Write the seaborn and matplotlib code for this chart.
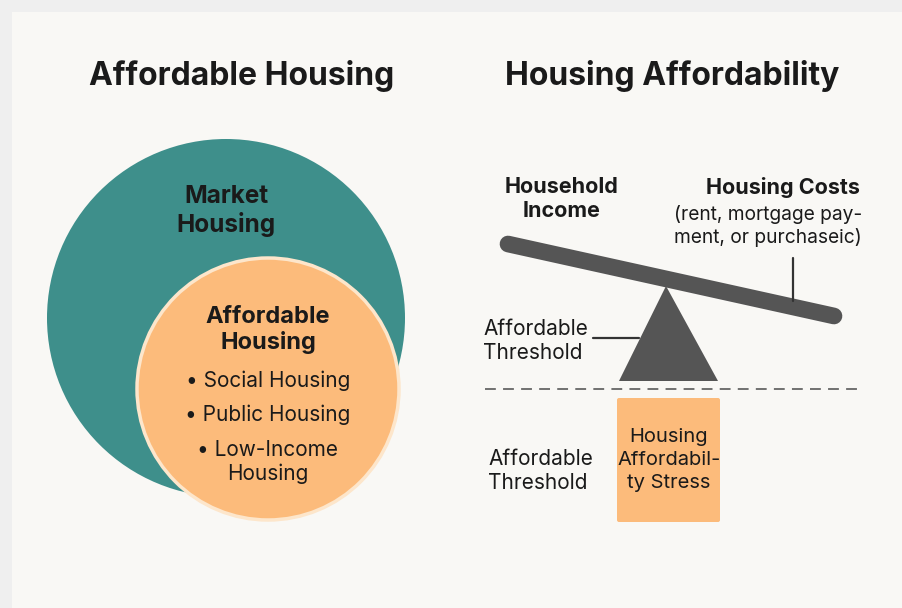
import matplotlib
matplotlib.use("Agg")
import matplotlib.pyplot as plt
import seaborn as sns
import pandas as pd
from matplotlib.patches import Circle, Polygon, FancyBboxPatch, Rectangle

# ---- content ----
panel_titles = ["Affordable Housing", "Housing Affordability"]
outer_label = "Market\nHousing"
inner_label = "Affordable\nHousing"
inner_items = ["• Social Housing", "• Public Housing", "• Low-Income\nHousing"]
left_pan_label = "Household\nIncome"
right_pan_label = "Housing Costs"
right_pan_note = "(rent, mortgage pay-\nment, or purchaseic)"
threshold_label = "Affordable\nThreshold"
stress_label = "Housing\nAffordabil-\nty Stress"

# colours
BG = "#efefef"
CARD = "#f9f8f5"
TEAL = "#3e8f8b"
ORANGE = "#fcbb7b"
ORANGE_EDGE = "#fde6cb"
DARK = "#555555"
TXT = "#1a1a1a"

sns.set_theme(style="white")
plt.rcParams["font.family"] = ["Inter", "DejaVu Sans"]

fig = plt.figure(figsize=(9.03, 6.08), dpi=100, facecolor=BG)
ax = fig.add_axes([0, 0, 1, 1])
ax.set_facecolor(BG)

# card
ax.add_patch(Rectangle((14, 14), 900, 600, facecolor="#e4e4e4", edgecolor="none", zorder=0))
ax.add_patch(Rectangle((12, 12), 900, 600, facecolor=CARD, edgecolor="none", zorder=0.5))

# titles
ax.text(242, 76, panel_titles[0], ha="center", va="center", fontsize=23, fontweight="bold", color=TXT)
ax.text(672, 76, panel_titles[1], ha="center", va="center", fontsize=23, fontweight="bold", color=TXT)

# venn circles
ax.add_patch(Circle((226, 318), 179, facecolor=TEAL, edgecolor="none", zorder=1))
ax.add_patch(Circle((268, 389), 131, facecolor=ORANGE, edgecolor=ORANGE_EDGE, linewidth=2.5, zorder=2))

ax.text(226, 211, outer_label, ha="center", va="center", fontsize=17.5, fontweight="bold",
        color=TXT, linespacing=1.2, zorder=3)
ax.text(268, 330, inner_label, ha="center", va="center", fontsize=17, fontweight="bold",
        color=TXT, linespacing=1.2, zorder=3)
item_y = [381, 415, 462]
for t, y in zip(inner_items, item_y):
    ax.text(268, y, t, ha="center", va="center", fontsize=15, color=TXT, linespacing=1.25, zorder=3)

# seesaw plank
ax.plot([508, 834], [244, 316], color=DARK, linewidth=12, solid_capstyle="round", zorder=3)
# fulcrum
ax.add_patch(Polygon([[666, 286], [619, 381], [718, 381]], closed=True, facecolor=DARK,
                     edgecolor="none", zorder=2))
# leader lines
ax.plot([593, 639], [338, 338], color="#333333", linewidth=1.6, zorder=3)
ax.plot([793, 793], [258, 301], color="#333333", linewidth=1.6, zorder=3)

# dashed threshold line via seaborn
dash = pd.DataFrame({"x": [485, 862], "y": [389, 389]})
sns.lineplot(data=dash, x="x", y="y", ax=ax, color="#666666", linewidth=1.3,
             linestyle=(0, (6, 4)), zorder=2)
ax.set_xlim(0, 903)
ax.set_ylim(608, 0)
ax.axis("off")

# stress box
ax.add_patch(FancyBboxPatch((617, 398), 103, 124, boxstyle="round,pad=0,rounding_size=2",
                            facecolor=ORANGE, edgecolor="none", zorder=2))
ax.text(669, 460, stress_label, ha="center", va="center", fontsize=14.5, color=TXT,
        linespacing=1.35, zorder=3)

# labels right panel
ax.text(562, 199, left_pan_label, ha="center", va="center", fontsize=15.5, fontweight="bold",
        color=TXT, linespacing=1.2)
ax.text(860, 187, right_pan_label, ha="right", va="center", fontsize=15.5, fontweight="bold", color=TXT)
ax.text(862, 226, right_pan_note, ha="right", va="center", fontsize=13.8, color=TXT, linespacing=1.25)
ax.text(483, 341, threshold_label, ha="left", va="center", fontsize=15, color=TXT, linespacing=1.3)
ax.text(488, 471, threshold_label, ha="left", va="center", fontsize=15, color=TXT, linespacing=1.3)

fig.savefig("out.png", dpi=100, facecolor=BG)
